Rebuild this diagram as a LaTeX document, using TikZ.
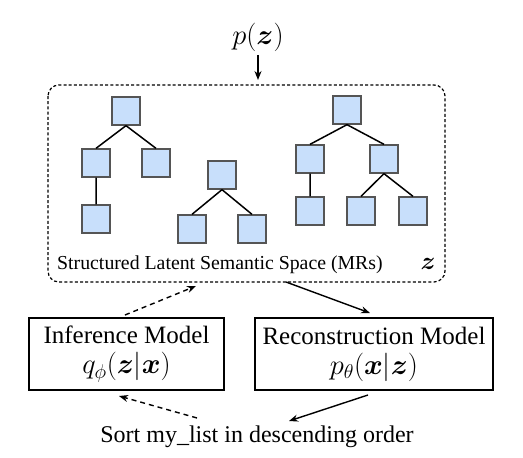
\RequirePackage{fix-cm}
\documentclass[tikz,border=0pt]{standalone}
\usepackage{amsmath,bm}
\usepackage{fontspec}
\setmainfont{Liberation Serif}
\usetikzlibrary{arrows.meta}
\definecolor{sqfill}{HTML}{C8DFFB}
\definecolor{sqdraw}{HTML}{555555}
\newcommand{\bigmath}{\fontsize{28.5}{32}\selectfont}
\tikzset{
  sq/.style={draw=sqdraw, fill=sqfill, line width=1.3pt, minimum size=28pt, inner sep=0pt},
  edge/.style={line width=1.5pt, black},
  model/.style={draw, line width=1.2pt, align=center, inner sep=0pt, font=\fontsize{25}{28}\selectfont},
  arr/.style={-{Stealth[length=9pt,width=7pt]}, line width=1.4pt},
  darr/.style={arr, dash pattern=on 5pt off 4pt},
}
\begin{document}
\begin{tikzpicture}[x=1pt,y=-1pt]
\useasboundingbox (0,0) rectangle (523,458);
% dashed space
\draw[line width=1.2pt, dash pattern=on 3pt off 2.2pt, rounded corners=11pt] (48,85) rectangle (445,282);
\node (space) at (246.5,183.5) [minimum width=397pt, minimum height=197pt, inner sep=0pt] {};
% prior
\node (pz) at (258,37) {\bigmath$p(\bm{z})$};
\coordinate (top) at (258,80);
\draw[arr] (pz.south) -- (top);
% tree 1
\node[sq] (a1) at (126,111) {};
\node[sq] (a2) at (96,163) {};
\node[sq] (a3) at (156,163) {};
\node[sq] (a4) at (96,219) {};
\draw[edge] (a1.south) -- (a2.north) (a1.south) -- (a3.north) (a2.south) -- (a4.north);
% tree 2
\node[sq] (b1) at (222,175) {};
\node[sq] (b2) at (192,229) {};
\node[sq] (b3) at (252,229) {};
\draw[edge] (b1.south) -- (b2.north) (b1.south) -- (b3.north);
% tree 3
\node[sq] (c1) at (347,110) {};
\node[sq] (c2) at (310,159) {};
\node[sq] (c3) at (384,159) {};
\node[sq] (c4) at (310,211) {};
\node[sq] (c5) at (361,211) {};
\node[sq] (c6) at (413,211) {};
\draw[edge] (c1.south) -- (c2.north) (c1.south) -- (c3.north) (c2.south) -- (c4.north)
  (c3.south) -- (c5.north) (c3.south) -- (c6.north);
% labels
\node[anchor=west, inner sep=0pt] (lab) at (57,265) {\fontsize{19.8}{24}\selectfont Structured Latent Semantic Space (MRs)};
\node (zl) at (428,264) {\fontsize{25}{28}\selectfont$\bm{z}$};
% models
\node[model, minimum width=195pt, minimum height=72pt] (inf) at (126.5,354) {Inference Model\\[2pt] {\bigmath$q_\phi(\bm{z}|\bm{x})$}};
\node[model, minimum width=238pt, minimum height=72pt] (rec) at (374,354) {Reconstruction Model\\[2pt] {\bigmath$p_\theta(\bm{x}|\bm{z})$}};
% bottom text
\node (sort) at (257,437) {\fontsize{24}{29}\selectfont Sort my\_list in descending order};
% arrows
\coordinate (s1) at (125,315);
\coordinate (s2) at (196,286);
\draw[darr] (s1) -- (s2);
\coordinate (r1) at (286,282);
\coordinate (r2) at (370,313);
\draw[arr] (r1) -- (r2);
\coordinate (b1s) at (368,395);
\coordinate (b1e) at (289,421);
\draw[arr] (b1s) -- (b1e);
\coordinate (d1s) at (197,418);
\coordinate (d1e) at (119,396);
\draw[darr] (d1s) -- (d1e);
\end{tikzpicture}
\end{document}
